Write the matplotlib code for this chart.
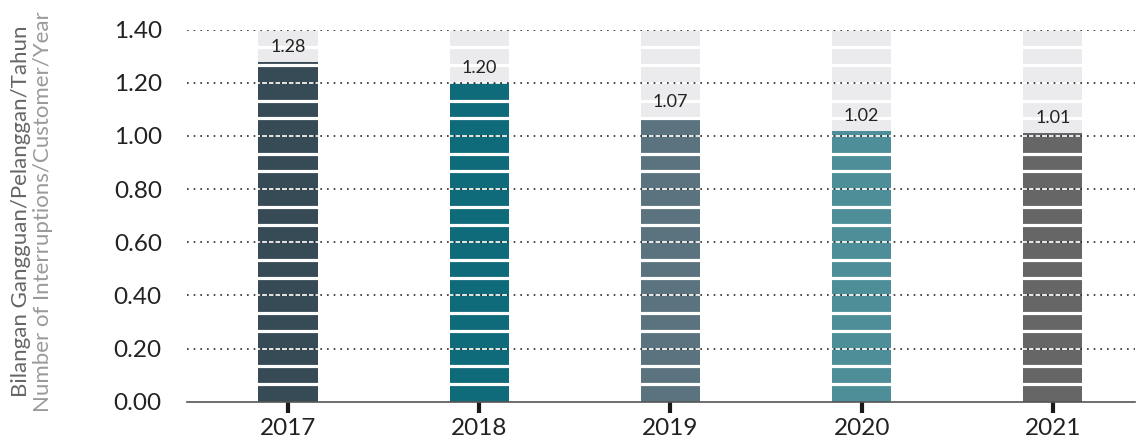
import matplotlib
matplotlib.use('Agg')
import matplotlib.pyplot as plt
import numpy as np

plt.rcParams['font.family'] = ['Lato', 'DejaVu Sans']

tahun = ['2017', '2018', '2019', '2020', '2021']
saidi = [1.28, 1.20, 1.07, 1.02, 1.01]
label = ['1.28', '1.20', '1.07', '1.02', '1.01']
warna = ['#364b56', '#0f6a79', '#5a737f', '#4e8e99', '#666666']

fig = plt.figure(figsize=(11.39, 4.41), dpi=100)
ax = fig.add_axes([0.164, 0.089, 0.8325, 0.8438])

x = np.arange(len(tahun))
lebar = 0.31

# latar abu-abu sampai batas atas sumbu
ax.bar(x, [1.40] * len(x), width=lebar, color='#ebebed', zorder=1)
ax.bar(x, saidi, width=lebar, color=warna, zorder=2)

# garis putih pemisah segmen batang
for k in range(1, 21):
    if k % 3 != 0:
        ax.axhline(k / 15, color='white', lw=2.3, zorder=3)

# garis bantu titik-titik
for y in np.arange(0.2, 1.41, 0.2):
    ax.axhline(y, color='#2b2b2b', lw=1.2, linestyle=(0, (1, 3)),
               gapcolor='white', zorder=4)

for xi, v, t in zip(x, saidi, label):
    ax.annotate(t, (xi, v), xytext=(0, 5), textcoords='offset points',
                ha='center', va='bottom', fontsize=13, color='#222222', zorder=5)

ax.set_xlim(-0.53, 4.43)
ax.set_ylim(0, 1.40)
ax.set_xticks(x)
ax.set_xticklabels(tahun)
ax.set_yticks(np.arange(0, 1.41, 0.2))
ax.set_yticklabels([f'{v:.2f}' for v in np.arange(0, 1.41, 0.2)])

for s in ['top', 'right', 'left']:
    ax.spines[s].set_visible(False)
ax.spines['bottom'].set_color('#555555')
ax.spines['bottom'].set_linewidth(1.2)
ax.spines['bottom'].set_zorder(6)

ax.tick_params(axis='x', length=8, width=3, color='#1a1a1a', labelsize=17.5,
               labelcolor='#222222', pad=4)
ax.tick_params(axis='y', length=0, labelsize=17.5, labelcolor='#222222', pad=18)

fig.text(0.018, 0.52, 'Bilangan Gangguan/Pelanggan/Tahun', rotation=90,
         ha='center', va='center', fontsize=16, color='#666666')
fig.text(0.038, 0.52, 'Number of Interruptions/Customer/Year', rotation=90,
         ha='center', va='center', fontsize=16, color='#9a9a9a')

fig.savefig('out.png', dpi=100)
